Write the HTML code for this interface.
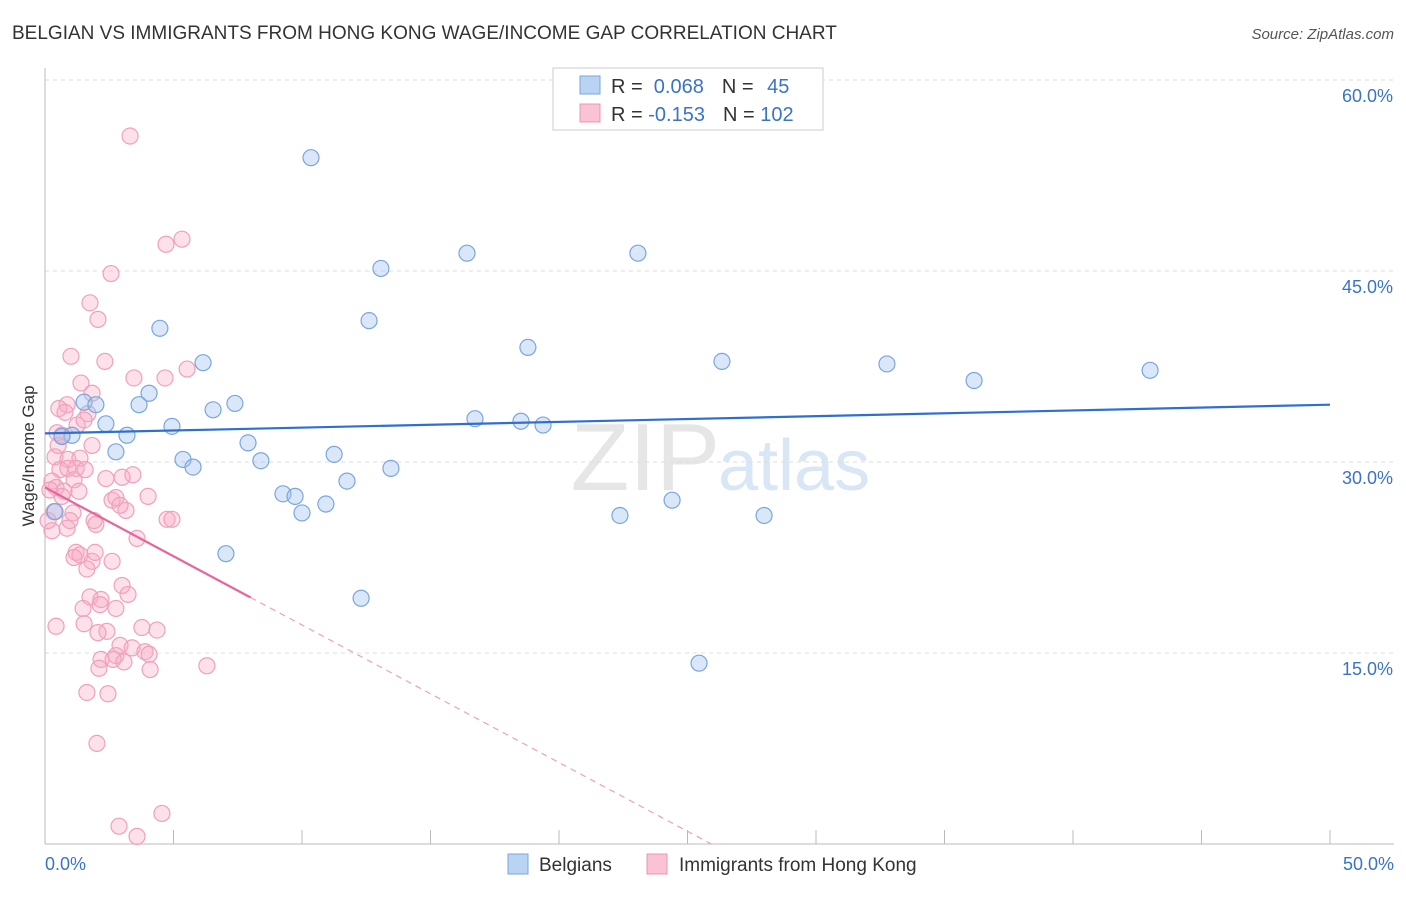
<!DOCTYPE html>
<html><head><meta charset="utf-8"><style>
body{margin:0;background:#fff;font-family:"Liberation Sans",sans-serif;}
svg text{font-family:"Liberation Sans",sans-serif;}
</style></head><body>
<svg width="1406" height="892" id="chart">
<text x="12" y="39" font-size="19" fill="#333">BELGIAN VS IMMIGRANTS FROM HONG KONG WAGE/INCOME GAP CORRELATION CHART</text>
<text x="1394" y="39" font-size="15" fill="#555" text-anchor="end" font-style="italic">Source: ZipAtlas.com</text>
<text x="720" y="490" font-size="96" fill="#e6e6e6" text-anchor="end" font-family="Liberation Serif">ZIP</text>
<text x="718" y="490" font-size="72" fill="#d9e6f5">atlas</text>
<g id="grid"></g><g id="axes"></g><g id="marks"></g>
<text x="34" y="456" font-size="17" fill="#333" text-anchor="middle" transform="rotate(-90 34 456)">Wage/Income Gap</text>
<g>
<rect x="553" y="68" width="270" height="62" fill="#fff" stroke="#ccc"/>
<rect x="580" y="76" width="20" height="18" fill="#b9d3f2" stroke="#7aa6de"/>
<rect x="580" y="104" width="20" height="18" fill="#f9c3d3" stroke="#ec94b0"/>
<text x="611" y="93" font-size="20" fill="#333">R = <tspan fill="#3a73c8">&#160;0.068</tspan><tspan dx="18">N = </tspan><tspan fill="#3a73c8" dx="8">45</tspan></text>
<text x="611" y="121" font-size="20" fill="#333">R = <tspan fill="#3a73c8">-0.153</tspan><tspan dx="18">N = </tspan><tspan fill="#3a73c8">102</tspan></text>
</g>
<g>
<rect x="508" y="854" width="20" height="20" fill="#b9d3f2" stroke="#7aa6de"/>
<text x="539" y="871" font-size="19" fill="#333">Belgians</text>
<rect x="647" y="854" width="20" height="20" fill="#f9c3d3" stroke="#ec94b0"/>
<text x="679" y="871" font-size="19" fill="#333">Immigrants from Hong Kong</text>
</g>
</svg>
<script>
const yTicks=[15,30,45,60];
const yTickLabels=["15.0%","30.0%","45.0%","60.0%"];
const xTicks=[0,5,10,15,20,25,30,35,40,45,50];
const belgX=[10.35,13.07,16.42,23.07,12.61,4.47,18.79,6.15,26.34,32.76,36.15,43.0,4.05,1.52,1.98,3.66,7.39,6.54,16.73,18.52,19.38,2.37,4.94,1.05,3.19,7.9,2.76,11.25,5.37,8.4,5.76,13.46,11.75,9.26,9.73,10.93,10.0,22.37,24.4,27.98,7.04,12.3,25.45,0.39,0.66];
const belgY=[53.9,45.2,46.4,46.4,41.1,40.5,39.0,37.8,37.9,37.7,36.4,37.2,35.4,34.7,34.5,34.5,34.6,34.1,33.4,33.2,32.9,33.0,32.8,32.1,32.1,31.5,30.8,30.6,30.2,30.1,29.6,29.5,28.5,27.5,27.3,26.7,26.0,25.8,27.0,25.8,22.8,19.3,14.2,26.1,32.0];
const hkX=[3.31,5.33,4.71,2.57,1.75,2.06,1.01,2.33,5.53,3.46,4.67,1.40,1.83,0.86,0.54,0.78,1.67,1.25,1.52,0.47,0.66,1.83,0.39,0.89,1.36,0.58,0.89,1.21,3.42,3.0,2.37,0.27,1.13,0.43,0.74,1.32,2.61,2.76,4.01,0.66,0.35,1.09,3.15,4.75,4.94,1.91,1.98,0.86,0.27,3.58,1.21,1.36,1.13,1.83,2.61,1.63,3.0,3.23,1.75,2.18,1.48,2.76,2.14,0.43,1.52,3.77,4.36,2.41,2.06,2.92,3.39,3.89,2.76,4.05,2.18,2.65,3.07,6.3,4.09,2.1,1.63,2.45,2.02,4.55,2.88,3.58,0.12,0.19,0.51,1.56,0.97,1.95,2.92];
const hkY=[55.6,47.5,47.1,44.8,42.5,41.2,38.3,37.9,37.3,36.6,36.6,36.2,35.4,34.5,34.2,33.9,33.8,32.9,33.3,32.3,32.1,31.3,30.4,30.2,30.3,29.4,29.5,29.5,29.0,28.8,28.7,28.5,28.6,28.0,27.7,27.7,27.0,27.2,27.3,27.3,26.1,26.0,26.2,25.5,25.5,25.4,25.1,24.8,24.6,24.0,22.9,22.7,22.5,22.2,22.2,21.6,20.3,19.6,19.4,19.2,18.5,18.5,18.8,17.1,17.3,17.0,16.8,16.7,16.6,15.6,15.4,15.1,14.8,14.9,14.5,14.5,14.3,14.0,13.7,13.8,11.9,11.8,7.9,2.4,1.4,0.6,25.4,27.8,31.3,29.4,25.4,22.9,26.6];
const belgTrend=[32.25,0.045];
const hkTrend=[28.0,-1.08];
const X0=45,X1=1330,Y0=844,YPX=191/15;
const sx=v=>X0+(X1-X0)*v/50, sy=v=>Y0-v*YPX;
const NS="http://www.w3.org/2000/svg";
function mk(t,a,p){const e=document.createElementNS(NS,t);for(const k in a)e.setAttribute(k,a[k]);p.appendChild(e);return e;}
const grid=document.getElementById('grid'),axes=document.getElementById('axes'),marks=document.getElementById('marks');
yTicks.forEach((t,i)=>{
 const l=mk('line',{x1:45,x2:1394,y1:sy(t),y2:sy(t),stroke:'#ddd','stroke-dasharray':'4,4'},grid);
 
 
 const tx=mk('text',{x:1393,y:sy(t)+22,'font-size':18,fill:'#3a73c8','text-anchor':'end'},axes);
 tx.textContent=yTickLabels[i];
 
 
});
const ax=mk('line',{x1:45,x2:1394,y1:844,y2:844,stroke:'#bbb'},axes);


const ay=mk('line',{x1:45,x2:45,y1:68,y2:844,stroke:'#bbb'},axes);


xTicks.forEach(t=>{
 const l=mk('line',{x1:sx(t),x2:sx(t),y1:830,y2:844,stroke:'#bbb'},axes);
 
 
});
[[0,'0.0%','start',45],[50,'50.0%','end',1394]].forEach(d=>{
 const tx=mk('text',{x:d[3],y:870,'font-size':18,fill:'#3a73c8','text-anchor':d[2]},axes);
 tx.textContent=d[1];
 
 
});
hkX.forEach((x,i)=>{
 const c=mk('circle',{cx:sx(x),cy:sy(hkY[i]),r:8,fill:'rgba(246,170,195,0.35)',stroke:'#f0a0ba','stroke-width':1.2},marks);
 
 
});
belgX.forEach((x,i)=>{
 const c=mk('circle',{cx:sx(x),cy:sy(belgY[i]),r:8,fill:'rgba(160,196,238,0.4)',stroke:'#7aa6de','stroke-width':1.2},marks);
 
 
});
const bt=mk('line',{x1:sx(0),y1:sy(belgTrend[0]),x2:sx(50),y2:sy(belgTrend[0]+50*belgTrend[1]),stroke:'#2f6fd0','stroke-width':2.2},marks);


const xs=8,xe=-hkTrend[0]/hkTrend[1];
const pt=mk('line',{x1:sx(0),y1:sy(hkTrend[0]),x2:sx(xs),y2:sy(hkTrend[0]+xs*hkTrend[1]),stroke:'#e8659a','stroke-width':2.2},marks);


const pd=mk('line',{x1:sx(xs),y1:sy(hkTrend[0]+xs*hkTrend[1]),x2:sx(xe),y2:sy(0),stroke:'#eda0bb','stroke-width':1.2,'stroke-dasharray':'6,5'},marks);


</script>
</body></html>
